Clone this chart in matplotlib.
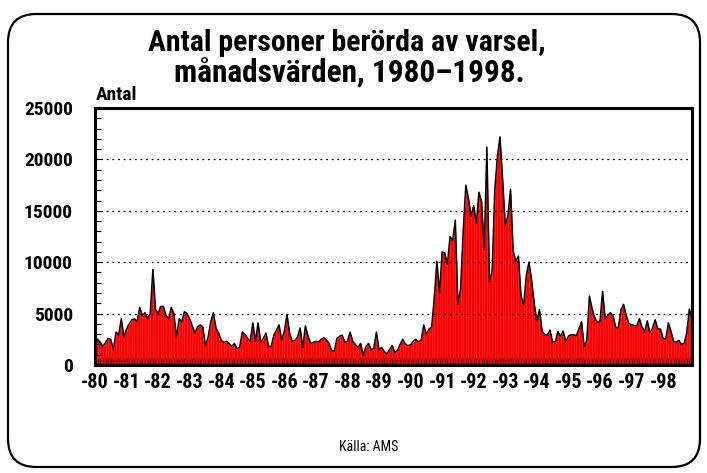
import matplotlib
matplotlib.use("Agg")
import matplotlib.pyplot as plt
from matplotlib.patches import FancyBboxPatch
from matplotlib import font_manager
import numpy as np

# pick a condensed family that has a bold face, if any
cands = {}
for f in font_manager.fontManager.ttflist:
    if ('Narrow' in f.name or 'Condensed' in f.name or f.stretch in ('condensed', 'semi-condensed')):
        w = f.weight if isinstance(f.weight, int) else (700 if 'bold' in str(f.weight).lower() else 400)
        if w >= 600:
            cands.setdefault(f.name, []).append(f.fname)
pref = ['Liberation Sans Narrow', 'Arial Narrow', 'Roboto Condensed', 'Open Sans Condensed']
chosen = [p for p in pref if p in cands] + sorted(cands)
NARROW_OK = bool(chosen)
FAM = (chosen[:1] if chosen else []) + ['Liberation Sans', 'DejaVu Sans']
plt.rcParams['font.family'] = FAM
S = 1.0 if NARROW_OK else 0.82

years = list(range(1980, 1999))
year_labels = ['-80', '-81', '-82', '-83', '-84', '-85', '-86', '-87', '-88', '-89',
               '-90', '-91', '-92', '-93', '-94', '-95', '-96', '-97', '-98']

v1980 = [2000, 2500, 2200, 1800, 2200, 2600, 2500, 1500, 3200, 2900, 4500, 2700]
v1981 = [3500, 4000, 4400, 4500, 4200, 5600, 4800, 5100, 4500, 5000, 9300, 5400]
v1982 = [5000, 5700, 5700, 4800, 4500, 5600, 5000, 2700, 4500, 4200, 5200, 5000]
v1983 = [4500, 3800, 3100, 3700, 3900, 3700, 1900, 2700, 4200, 5100, 3600, 3100]
v1984 = [2400, 2200, 2300, 2100, 1800, 2100, 1600, 1700, 3200, 3000, 2600, 2300]
v1985 = [4100, 2300, 4100, 2200, 2600, 3100, 1800, 1800, 2900, 3400, 3900, 2400]
v1986 = [3300, 4900, 3100, 2300, 2400, 2700, 3600, 1700, 3800, 2800, 2100, 2200]
v1987 = [2300, 2250, 2500, 2650, 2450, 2100, 1400, 1350, 2600, 2800, 2900, 2200]
v1988 = [2300, 3200, 2300, 2000, 1700, 2100, 900, 1800, 2100, 1500, 1600, 3200]
v1989 = [1500, 1700, 1300, 1100, 1500, 1900, 1200, 1400, 2000, 2500, 2050, 1900]
v1990 = [1950, 2300, 2500, 2250, 2400, 3900, 3000, 3500, 3700, 6500, 10100, 7000]
v1991 = [11000, 10900, 9800, 12500, 12100, 14100, 5900, 7400, 13000, 17500, 16200, 14500]
v1992 = [15500, 13800, 16800, 15900, 11200, 21200, 8100, 9100, 17000, 20300, 22200, 18000]
v1993 = [13600, 14500, 17100, 11100, 10100, 10600, 6700, 5850, 8700, 10000, 8300, 6000]
v1994 = [4300, 5400, 3300, 2950, 2900, 3400, 2250, 2250, 3250, 2800, 3300, 2250]
v1995 = [2800, 2950, 2950, 2850, 3500, 4200, 1800, 2400, 6700, 5500, 4600, 4150]
v1996 = [4200, 7150, 4500, 4850, 5100, 4800, 3650, 3650, 5400, 5900, 4800, 4050]
v1997 = [3900, 3850, 3800, 4500, 3700, 3250, 4300, 3100, 3600, 4400, 3500, 3500]
v1998 = [2600, 2500, 4100, 3300, 2300, 2200, 2400, 2000, 2100, 3100, 5450, 4500]

values = np.array(v1980 + v1981 + v1982 + v1983 + v1984 + v1985 + v1986 + v1987 +
                  v1988 + v1989 + v1990 + v1991 + v1992 + v1993 + v1994 + v1995 +
                  v1996 + v1997 + v1998, dtype=float)
t = 1980 + np.arange(len(values)) / 12.0

fig = plt.figure(figsize=(7.07, 4.73), dpi=100)

frame = FancyBboxPatch((8 / 707, 6 / 473), 692 / 707, 453 / 473,
                       boxstyle="round,pad=0,rounding_size=0.04",
                       transform=fig.transFigure, fill=False,
                       edgecolor='black', linewidth=1.6, mutation_aspect=707 / 473)
fig.patches.append(frame)

ax = fig.add_axes([95 / 707, 1 - 365 / 473, 597 / 707, 257 / 473])
ax.fill_between(t, 0, values, color='#ff0000', linewidth=0, zorder=2)
ax.vlines(t, 0, values, color='#ff9a9a', linewidth=0.4, alpha=0.35, zorder=2.5)
ax.plot(t, values, color='black', linewidth=1.1, zorder=3)

ax.set_xlim(t[0], t[-1])
ax.set_ylim(0, 25000)
ax.set_yticks([0, 5000, 10000, 15000, 20000, 25000])
ax.set_yticklabels(['0', '5000', '10000', '15000', '20000', '25000'],
                   fontweight='bold', fontsize=14 * S)
ax.set_yticks(np.arange(0, 25001, 1000), minor=True)
ax.set_xticks(years)
ax.set_xticklabels(year_labels, fontweight='bold', fontsize=14.5 * S)
ax.set_xticks(t, minor=True)
ax.tick_params(axis='y', which='both', direction='in', length=4, width=0.8, pad=16)
ax.tick_params(axis='x', which='both', direction='in', length=5, width=0.8,
               color='#400000', pad=6)
for s in ax.spines.values():
    s.set_linewidth(2.2)
    s.set_zorder(5)
ax.grid(axis='y', which='major', linestyle=(0, (1.5, 3)), color='black', linewidth=0.9)
ax.set_axisbelow(False)
ax.yaxis.grid(True, zorder=4)

fig.text(0.49, 1 - 43 / 473, 'Antal personer berörda av varsel,', ha='center',
         va='center', fontsize=21.5 * S, fontweight='bold')
fig.text(0.494, 1 - 73 / 473, 'månadsvärden, 1980–1998.', ha='center',
         va='center', fontsize=22.5 * S, fontweight='bold')
fig.text(96 / 707, 1 - 95 / 473, 'Antal', ha='left', va='center',
         fontsize=14 * S, fontweight='bold')
fig.text(369 / 707, 1 - 447 / 473, 'Källa: AMS', ha='center', va='center',
         fontsize=10 * S)

fig.savefig('out.png', dpi=100)
